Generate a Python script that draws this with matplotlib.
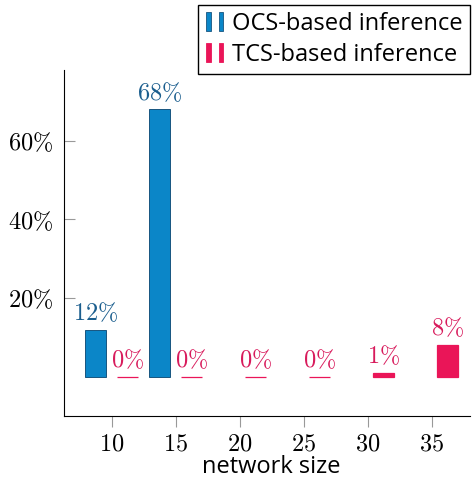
import matplotlib.pyplot as plt
from matplotlib.patches import Rectangle
from matplotlib.legend_handler import HandlerBase

plt.rcParams['mathtext.fontset'] = 'cm'

sizes = [10, 15, 20, 25, 30, 35]
ocs_sizes = [10, 15]
ocs_values = [12, 68]
tcs_values = [0, 0, 0, 0, 1, 8]

ocs_color = '#0b86c8'
ocs_edge = '#17557f'
ocs_text = '#1b5e8e'
tcs_color = '#ea1558'
tcs_text = '#d81b5c'

offset = 1.25
width = 1.65


class TwoBarHandler(HandlerBase):
    # pgfplots-style legend icon: two small bars
    def __init__(self, face, edge):
        super().__init__()
        self.face = face
        self.edge = edge

    def create_artists(self, legend, orig_handle, xdescent, ydescent,
                       width, height, fontsize, trans):
        w = width * 0.24
        y0 = -ydescent - height * 0.05
        hh = height * 1.15
        r1 = Rectangle((-xdescent + width * 0.05, y0), w, hh,
                       facecolor=self.face, edgecolor=self.edge, lw=0.6, transform=trans)
        r2 = Rectangle((-xdescent + width * 0.72, y0), w, hh,
                       facecolor=self.face, edgecolor=self.edge, lw=0.6, transform=trans)
        return [r1, r2]


fig = plt.figure(figsize=(4.75, 4.79), dpi=100)
ax = fig.add_axes([0.1347, 0.1315, 0.855, 0.7223])

ocs_x = [s - offset for s in ocs_sizes]
tcs_x = [s + offset for s in sizes]
b1 = ax.bar(ocs_x, ocs_values, width=width, color=ocs_color, edgecolor=ocs_edge, linewidth=0.7)
b2 = ax.bar(tcs_x, tcs_values, width=width, color=tcs_color, edgecolor=tcs_color, linewidth=0.9)

for x, v in zip(ocs_x, ocs_values):
    ax.text(x, v + 1.2, r'$%d\%%$' % v, ha='center', va='bottom', color=ocs_text, fontsize=17.5)
for x, v in zip(tcs_x, tcs_values):
    ax.text(x, v + 1.2, r'$%d\%%$' % v, ha='center', va='bottom', color=tcs_text, fontsize=17.5)

ax.set_xlim(6.27, 38.0)
ax.set_ylim(-10, 78)
ax.set_xticks(sizes)
ax.set_xticklabels([r'$%d$' % s for s in sizes], fontsize=17.5)
ax.set_yticks([20, 40, 60])
ax.set_yticklabels([r'$%d\%%$' % t for t in [20, 40, 60]], fontsize=17.5)
ax.tick_params(axis='both', color='#999999', length=8, width=0.8)
ax.tick_params(axis='x', direction='out', pad=3)
ax.tick_params(axis='y', direction='in', pad=8)
ax.spines['top'].set_visible(False)
ax.spines['right'].set_visible(False)
ax.set_xlabel('network size', fontsize=17, family='Open Sans', va='baseline')
ax.xaxis.set_label_coords(0.5 + (271.5 - 267) / 406, -0.165)

h1 = Rectangle((0, 0), 1, 1)
h2 = Rectangle((0, 0), 1, 1)
fig.legend([h1, h2], ['OCS-based inference', 'TCS-based inference'],
           handler_map={h1: TwoBarHandler(ocs_color, ocs_edge), h2: TwoBarHandler(tcs_color, tcs_color)},
           loc='upper right', bbox_to_anchor=(470 / 475, 1 - 5 / 479), fancybox=False, edgecolor='black',
           framealpha=1, prop={'family': 'Open Sans', 'size': 17},
           handlelength=0.8, handletextpad=0.35, borderpad=0.3, labelspacing=0.3, borderaxespad=0)

fig.savefig('out.png', dpi=100)
